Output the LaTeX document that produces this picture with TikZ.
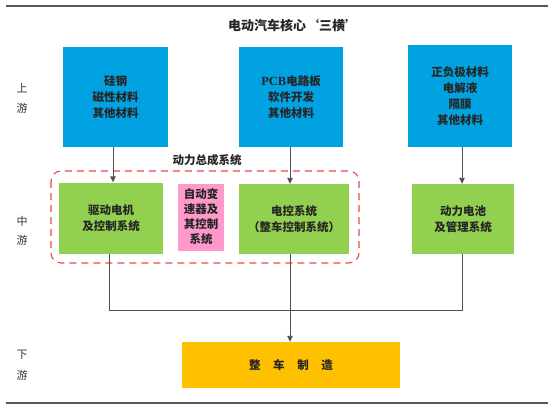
\documentclass[tikz,border=0pt]{standalone}
\usepackage{fontspec}
\setmainfont{Noto Sans CJK SC}
\newfontfamily\lat{Liberation Serif}[BoldFont={Liberation Serif Bold}]
\usetikzlibrary{arrows.meta}
\definecolor{bluebox}{RGB}{0,162,225}
\definecolor{greenbox}{RGB}{146,208,80}
\definecolor{pinkbox}{RGB}{255,153,204}
\definecolor{orangebox}{RGB}{255,192,0}
\definecolor{dashred}{RGB}{240,70,70}
\definecolor{lngray}{RGB}{80,80,80}
\tikzset{
  box/.style={inner sep=0pt, align=center, font=\fontsize{11.5}{16}\selectfont\bfseries, text=black!85},
  bluenode/.style={box, fill=bluebox},
  greennode/.style={box, fill=greenbox},
  pinknode/.style={box, fill=pinkbox, font=\fontsize{11.5}{15}\selectfont\bfseries},
  orangenode/.style={box, fill=orangebox},
  conn/.style={draw=lngray, line width=0.9pt},
  arr/.style={conn, -{Triangle[length=6pt,width=5.5pt]}},
  side/.style={font=\fontsize{11}{13}\selectfont, text=black!80},
  rule/.style={draw=black!65, line width=1.6pt}
}
\begin{document}
\begin{tikzpicture}[x=1pt,y=-1pt]
\useasboundingbox (0,0) rectangle (554,413);
% rules
\coordinate (tl) at (6,6); \coordinate (tr) at (548,6);
\coordinate (bl) at (6,403); \coordinate (br) at (548,403);
\draw[rule] (tl) -- (tr);
\draw[rule] (bl) -- (br);
% title
\node[font=\fontsize{13}{15}\selectfont\bfseries, text=black!85] (title) at (293,26) {电动汽车核心‘三横’};
% side labels
\node[side] (s1a) at (22,88) {上};
\node[side] (s1b) at (22,108) {游};
\node[side] (s2a) at (22,221) {中};
\node[side] (s2b) at (22,240) {游};
\node[side] (s3a) at (22,355) {下};
\node[side] (s3b) at (22,375) {游};
% upstream
\node[bluenode, minimum width=105pt, minimum height=100pt] (b1) at (115.5,97) {硅钢\\磁性材料\\其他材料};
\node[bluenode, minimum width=104pt, minimum height=100pt] (b2) at (291,97) {{\lat\bfseries\fontsize{12.5}{16}\selectfont PCB}电路板\\软件开发\\其他材料};
\node[bluenode, minimum width=104pt, minimum height=102pt] (b3) at (460,96) {正负极材料\\电解液\\隔膜\\其他材料};
% dashed group
\draw[dashred, line width=1.1pt, dash pattern=on 7pt off 5pt, rounded corners=10pt] (51,171) rectangle (359,263);
\node[font=\fontsize{11.5}{14}\selectfont\bfseries, text=black!85] (grp) at (207,160) {动力总成系统};
% midstream
\node[greennode, minimum width=104pt, minimum height=71pt] (g1) at (111,218) {驱动电机\\及控制系统};
\node[pinknode, minimum width=46pt, minimum height=67pt] (pk) at (201,217) {自动变\\速器及\\其控制\\系统};
\node[greennode, minimum width=110pt, minimum height=70pt] (g2) at (294,219) {电控系统\\（整车控制系统）};
\node[greennode, minimum width=102pt, minimum height=70pt] (g3) at (463,219) {动力电池\\及管理系统};
% downstream
\node[orangenode, minimum width=218pt, minimum height=46pt] (o) at (291,365) {整\hspace{1.1em}车\hspace{1.1em}制\hspace{1.1em}造};
% connector columns
\coordinate (a1) at (113,0);
\coordinate (a2) at (290,0);
\coordinate (a3) at (462,0);
\coordinate (l1) at (109,0);
\coordinate (hj) at (0,310);
\draw[arr] (b1.south -| a1) -- (g1.north -| a1);
\draw[arr] (b2.south -| a2) -- (g2.north -| a2);
\draw[arr] (b3.south -| a3) -- (g3.north -| a3);
\draw[conn] (g1.south -| l1) -- (l1 |- hj) -- (a3 |- hj) -- (g3.south -| a3);
\draw[arr] (g2.south -| a2) -- (o.north -| a2);
\end{tikzpicture}
\end{document}
